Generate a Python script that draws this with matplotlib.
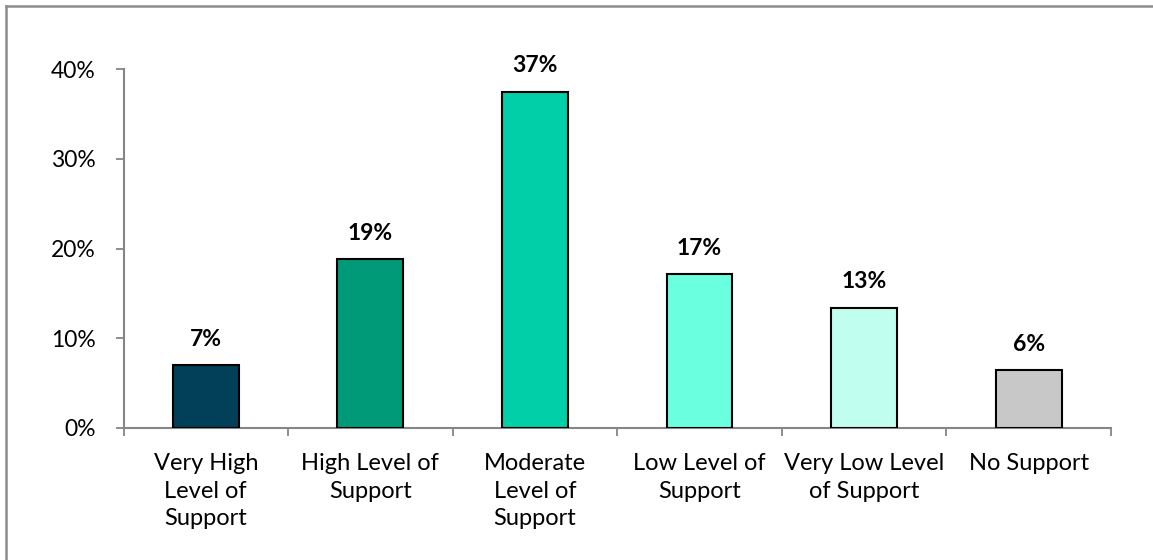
import matplotlib
matplotlib.use("Agg")
import matplotlib.pyplot as plt
import numpy as np
from matplotlib.ticker import FixedLocator, PercentFormatter
from matplotlib.lines import Line2D

categories = ["Very High\nLevel of\nSupport", "High Level of\nSupport", "Moderate\nLevel of\nSupport",
              "Low Level of\nSupport", "Very Low Level\nof Support", "No Support"]
values = [7.0, 18.8, 37.5, 17.1, 13.4, 6.4]
labels = ["7%", "19%", "37%", "17%", "13%", "6%"]
colors = ["#023F58", "#009A78", "#00CFA7", "#69FFDF", "#C0FFF0", "#C8C8C8"]
yticks = [0, 10, 20, 30, 40]

plt.rcParams['font.family'] = ['Lato', 'DejaVu Sans']
FS = 17

fig = plt.figure(figsize=(11.53, 5.60), dpi=100)
ax = fig.add_axes([123.5/1153, 132.3/560, (1111-123.5)/1153, (427.7-69.3)/560])

x = np.arange(len(values))
ax.bar(x, values, width=0.40, color=colors, edgecolor="black", linewidth=1.5, zorder=3)
for xi, v, lab in zip(x, values, labels):
    ax.annotate(lab, (xi, v), xytext=(0, 11), textcoords="offset points",
                ha="center", va="bottom", fontsize=16.5, fontweight="bold", color="black")

ax.set_xlim(-0.5, len(values) - 0.5)
ax.set_ylim(0, 40)
ax.set_yticks(yticks)
ax.yaxis.set_major_formatter(PercentFormatter(decimals=0))
ax.set_xticks(x)
ax.set_xticklabels(categories, fontsize=FS, linespacing=1.4)
ax.xaxis.set_minor_locator(FixedLocator(np.arange(-0.5, len(values), 1.0)))
ax.tick_params(axis="x", which="major", length=0, pad=18)
ax.tick_params(axis="x", which="minor", length=6, width=1.3, color="#868686")
ax.tick_params(axis="y", length=6, width=1.3, color="#868686", pad=14, labelsize=16.5)
for t in ax.get_xticklabels():
    t.set_verticalalignment("top")

for s in ["top", "right"]:
    ax.spines[s].set_visible(False)
for s in ["left", "bottom"]:
    ax.spines[s].set_color("#868686")
    ax.spines[s].set_linewidth(1.5)

# outer chart border (left and top visible)
fig.add_artist(Line2D([6/1153, 6/1153], [0, 1 - 6/560], transform=fig.transFigure, color="#8C8C8C", linewidth=1.8))
fig.add_artist(Line2D([6/1153, 1], [1 - 6/560, 1 - 6/560], transform=fig.transFigure, color="#8C8C8C", linewidth=1.8))

fig.savefig("out.png", dpi=100)
